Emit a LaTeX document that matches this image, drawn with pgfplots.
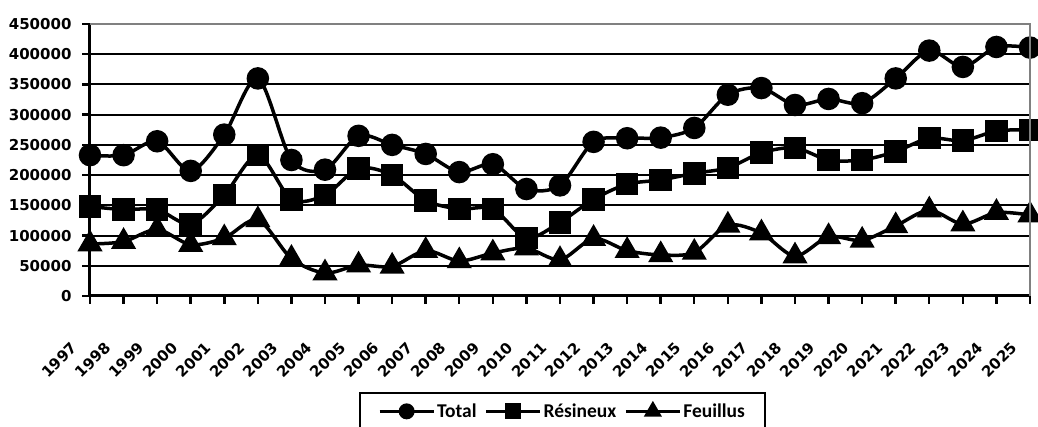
\documentclass[border=0pt]{standalone}
\usepackage{fontspec}
\usepackage{pgfplots}
\pgfplotsset{compat=1.18}
\newfontfamily\tickfont{DejaVu Sans}
\newfontfamily\legfont{Carlito}
\pgfplotstableread{
year total res feu
1997 233000 148000 86000
1998 233000 143000 90000
1999 256000 143000 110000
2000 207000 119000 85000
2001 267000 167000 96000
2002 360000 233000 126000
2003 225000 160000 62000
2004 209000 167000 38000
2005 265000 211000 51000
2006 250000 200000 49000
2007 235000 158000 75000
2008 205000 144000 58000
2009 218000 144000 71000
2010 177000 96000 79000
2011 183000 122000 60000
2012 255000 160000 95000
2013 261000 185000 75000
2014 262000 192000 68000
2015 278000 203000 72000
2016 333000 212000 117000
2017 344000 237000 104000
2018 316000 245000 66000
2019 326000 225000 98000
2020 319000 225000 92000
2021 360000 239000 116000
2022 406000 261000 142000
2023 379000 257000 119000
2024 412000 273000 138000
2025 411000 275000 134000
}\datatable
\begin{document}
\begin{tikzpicture}
\begin{axis}[
  at={(0pt,0pt)}, anchor=south west,
  scale only axis, width=940pt, height=272pt,
  xmin=1997, xmax=2025, ymin=0, ymax=450000,
  xtick={1997,...,2025}, ytick={0,50000,...,450000},
  axis x line*=bottom, axis y line*=left,
  axis line style={black, line width=3pt, -},
  tick align=outside, major tick length=8pt,
  every tick/.style={black, line width=2.5pt},
  ymajorgrids, major grid style={black, line width=2pt},
  scaled y ticks=false, scaled x ticks=false,
  /pgf/number format/.cd, 1000 sep={}, fixed, assume math mode=true,
  /pgfplots/.cd,
  yticklabel style={font=\tickfont\bfseries\fontsize{15}{15}\selectfont, xshift=-7pt},
  xticklabel style={font=\tickfont\bfseries\fontsize{15}{15}\selectfont, anchor=north east, xshift=-20pt, yshift=-37pt, rotate=45, inner sep=0pt},
  clip=false,
  legend style={at={(0.5027,-0.353)}, anchor=north, legend columns=3, draw=black, line width=1.5pt,
    font=\legfont\bfseries\fontsize{19.5}{21}\selectfont, inner xsep=18pt, inner ysep=9pt,
    /tikz/every even column/.append style={column sep=6pt}},
  legend cell align=left,
  legend image code/.code={\draw[mark repeat=2, mark phase=2, line width=3pt, mark options={scale=0.68}] plot coordinates {(0pt,0pt) (27pt,0pt) (54pt,0pt)};},
  every axis plot/.append style={black, line width=3.5pt, smooth, tension=0.5},
  after end axis/.code={\draw[gray, line width=2pt] (rel axis cs:0,1) -- (rel axis cs:1,1) -- (rel axis cs:1,0);},
]
\addplot[mark=*, mark size=9.5pt] table[x=year, y=total] {\datatable};
\addlegendentry{Total}
\addplot[mark=square*, mark size=9.5pt] table[x=year, y=res] {\datatable};
\addlegendentry{Résineux}
\addplot[mark=triangle*, mark size=11pt] table[x=year, y=feu] {\datatable};
\addlegendentry{Feuillus}
\end{axis}
\pgfresetboundingbox
\useasboundingbox (-90pt,-131pt) rectangle (948pt,296pt);
\end{tikzpicture}
\end{document}
